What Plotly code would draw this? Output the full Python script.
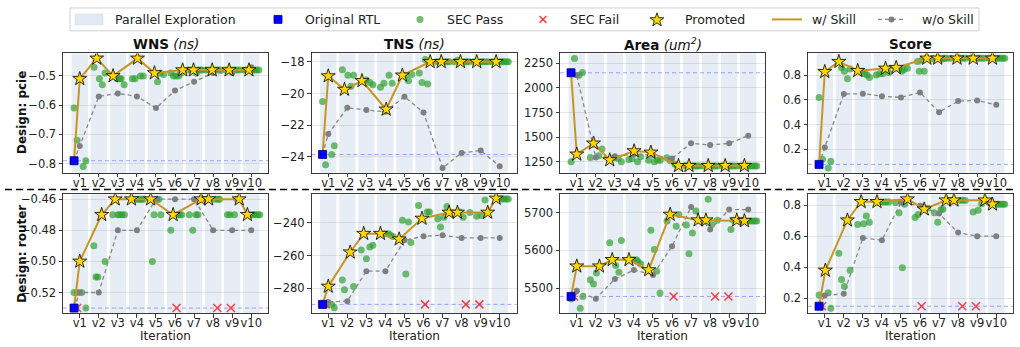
import math
import plotly.graph_objects as go

W, H = 1020, 347
ITERS = list(range(1, 11))
ITER_LABELS = [f"v{i}" for i in ITERS]
ORIG_X = 0.7
METRICS = ["WNS", "TNS", "Area", "Score"]
DESIGNS = ["pcie", "router"]

# ---------------- pcie ----------------
PCIE_WNS_ORIG = -0.79
PCIE_WNS_STAR_X = [1.00, 1.89, 2.75, 4.03, 4.92, 6.40, 6.97, 7.95, 8.84, 9.88]
PCIE_WNS_STAR_Y = [-0.51, -0.44, -0.50, -0.44, -0.49, -0.48, -0.48, -0.48, -0.48, -0.48]
PCIE_WNS_WO_Y = [-0.74, -0.57, -0.56, -0.57, -0.61, -0.55, -0.52, -0.49, -0.49, -0.47]
PCIE_WNS_PASS_X = [0.70, 0.86, 1.18, 1.32, 1.75, 2.03, 2.18, 2.33, 2.95, 3.10, 3.17, 3.33,
                   3.76, 3.90, 4.18, 4.33, 5.08, 5.22, 5.40, 5.78, 5.92, 6.05, 6.20, 6.30,
                   6.70, 6.85, 7.12, 7.20, 7.33, 7.42, 7.62, 7.78, 8.10, 8.25, 8.38,
                   8.65, 9.00, 9.12, 9.25, 9.40, 9.62, 9.75, 10.02, 10.15, 10.28, 10.40]
PCIE_WNS_PASS_Y = [-0.61, -0.72, -0.81, -0.79, -0.47, -0.51, -0.53, -0.49, -0.51, -0.51, -0.51, -0.53,
                   -0.51, -0.51, -0.50, -0.50, -0.52, -0.49, -0.495, -0.49, -0.50, -0.50, -0.50, -0.49,
                   -0.48, -0.48, -0.49, -0.48, -0.48, -0.48, -0.48, -0.48, -0.48, -0.48, -0.48,
                   -0.48, -0.48, -0.48, -0.48, -0.48, -0.48, -0.48, -0.48, -0.48, -0.48, -0.48]
PCIE_WNS_FAIL_X = []

PCIE_TNS_ORIG = -23.85
PCIE_TNS_STAR_X = [1.00, 1.85, 2.77, 4.04, 4.89, 6.35, 6.93, 7.94, 8.79, 9.81]
PCIE_TNS_STAR_Y = [-18.9, -19.75, -19.2, -21.0, -18.85, -18.0, -18.0, -18.0, -18.0, -18.0]
PCIE_TNS_WO_Y = [-22.55, -20.9, -21.05, -21.15, -20.2, -21.2, -24.7, -23.75, -23.6, -24.6]
PCIE_TNS_PASS_X = [0.70, 0.86, 1.18, 1.32, 1.74, 2.03, 2.19, 2.33, 3.00, 3.18, 3.34,
                   3.74, 3.92, 4.19, 4.36, 5.07, 5.21, 5.39, 5.78, 5.92, 6.10, 6.22,
                   6.70, 6.85, 7.10, 7.22, 7.35, 7.62, 7.78, 8.10, 8.25, 8.38,
                   8.65, 9.00, 9.12, 9.25, 9.40, 9.62, 9.95, 10.10, 10.22, 10.35, 10.45]
PCIE_TNS_PASS_Y = [-20.5, -24.5, -23.85, -23.3, -18.5, -18.85, -19.55, -18.85, -19.15, -19.3, -19.45,
                   -19.6, -19.35, -18.85, -19.35, -18.85, -19.2, -18.8, -18.7, -19.3, -17.85, -19.4,
                   -18.0, -18.0, -18.0, -18.0, -18.0, -18.0, -17.9, -18.0, -18.0, -18.0,
                   -18.0, -18.0, -18.0, -18.0, -18.0, -18.0, -18.0, -18.0, -18.0, -18.0, -18.0]
PCIE_TNS_FAIL_X = []

PCIE_AREA_ORIG = 2155
PCIE_AREA_STAR_X = [1.00, 1.88, 2.73, 4.01, 4.89, 6.34, 6.89, 7.90, 8.79, 9.80]
PCIE_AREA_STAR_Y = [1325, 1437, 1267, 1359, 1345, 1209, 1209, 1209, 1209, 1209]
PCIE_AREA_WO_Y = [2130, 1293, 1305, 1325, 1317, 1283, 1437, 1420, 1437, 1515]
PCIE_AREA_PASS_X = [0.70, 0.88, 1.12, 1.30, 1.71, 2.15, 2.33, 2.95, 3.17, 3.34,
                    3.74, 3.90, 4.19, 4.36, 4.77, 5.07, 5.25, 5.38, 5.73, 5.90, 6.15, 6.28,
                    6.70, 7.05, 7.18, 7.30, 7.42, 7.62, 8.10, 8.25, 8.38,
                    8.65, 9.00, 9.12, 9.25, 9.40, 9.62, 9.95, 10.10, 10.22, 10.35, 10.45]
PCIE_AREA_PASS_Y = [1250, 2301, 2130, 2158, 1293, 1310, 1378, 1290, 1283, 1250,
                    1273, 1283, 1250, 1300, 1266, 1250, 1266, 1266, 1290, 1260, 1225, 1215,
                    1209, 1205, 1205, 1205, 1205, 1205, 1205, 1205, 1205,
                    1205, 1205, 1205, 1205, 1205, 1205, 1205, 1205, 1205, 1205, 1205]
PCIE_AREA_FAIL_X = []

PCIE_SCORE_ORIG = 0.079
PCIE_SCORE_STAR_X = [1.00, 1.74, 2.73, 4.19, 4.75, 6.36, 6.93, 7.94, 8.79, 9.80]
PCIE_SCORE_STAR_Y = [0.827, 0.908, 0.835, 0.854, 0.860, 0.935, 0.935, 0.935, 0.935, 0.935]
PCIE_SCORE_WO_Y = [0.216, 0.647, 0.650, 0.630, 0.620, 0.660, 0.500, 0.590, 0.595, 0.560]
PCIE_SCORE_PASS_X = [0.70, 0.88, 1.18, 1.32, 1.88, 2.03, 2.19, 2.33, 2.95, 3.10, 3.22, 3.35,
                     3.70, 3.87, 4.04, 4.36, 4.92, 5.04, 5.16, 5.34, 5.87, 5.96, 6.10, 6.22,
                     6.70, 7.05, 7.18, 7.30, 7.42, 7.62, 8.10, 8.25, 8.38,
                     8.65, 9.00, 9.12, 9.25, 9.40, 9.62, 9.95, 10.10, 10.22, 10.35, 10.45]
PCIE_SCORE_PASS_Y = [0.62, 0.12, 0.05, 0.105, 0.86, 0.83, 0.77, 0.85, 0.83, 0.81, 0.80, 0.78,
                     0.80, 0.81, 0.81, 0.82, 0.85, 0.83, 0.845, 0.855, 0.91, 0.83, 0.92, 0.83,
                     0.93, 0.93, 0.93, 0.935, 0.935, 0.935, 0.935, 0.935, 0.935,
                     0.935, 0.935, 0.935, 0.935, 0.935, 0.935, 0.935, 0.935, 0.935, 0.935, 0.935]
PCIE_SCORE_FAIL_X = []

# ---------------- router ----------------
ROUTER_WNS_ORIG = -0.53
ROUTER_WNS_STAR_X = [1.00, 2.15, 2.86, 3.71, 4.72, 5.90, 7.37, 7.76, 9.37, 9.80]
ROUTER_WNS_STAR_Y = [-0.50, -0.47, -0.46, -0.46, -0.46, -0.47, -0.46, -0.46, -0.46, -0.47]
ROUTER_WNS_WO_Y = [-0.52, -0.52, -0.48, -0.48, -0.46, -0.46, -0.46, -0.48, -0.48, -0.48]
ROUTER_WNS_PASS_X = [0.70, 0.88, 1.10, 1.32, 1.74, 1.85, 1.95, 2.33, 2.73, 3.00, 3.10, 3.22, 3.35,
                     3.90, 4.05, 4.15, 4.25, 4.35, 4.81, 4.90, 5.05, 5.15, 5.25,
                     5.78, 6.13, 6.25, 6.35, 6.75, 6.93, 7.10, 7.20, 8.08, 8.25, 8.34,
                     8.75, 8.88, 9.12, 9.25, 9.95, 10.10, 10.22, 10.35, 10.45]
ROUTER_WNS_PASS_Y = [-0.52, -0.52, -0.52, -0.53, -0.49, -0.51, -0.51, -0.50, -0.47, -0.47, -0.47, -0.47, -0.47,
                     -0.46, -0.46, -0.46, -0.46, -0.46, -0.50, -0.47, -0.46, -0.46, -0.47,
                     -0.48, -0.47, -0.47, -0.47, -0.47, -0.48, -0.47, -0.47, -0.46, -0.46, -0.46,
                     -0.47, -0.47, -0.47, -0.46, -0.47, -0.47, -0.47, -0.47, -0.47]
ROUTER_WNS_FAIL_X = [0.86, 6.08, 8.22, 8.93]

ROUTER_TNS_ORIG = -290
ROUTER_TNS_STAR_X = [1.00, 2.15, 2.86, 3.74, 4.72, 5.92, 7.34, 7.78, 9.37, 9.81]
ROUTER_TNS_STAR_Y = [-279, -258, -246.6, -246.6, -250, -237.3, -233.6, -233.6, -233.6, -225]
ROUTER_TNS_WO_Y = [-288.5, -288, -269.6, -269.6, -250.7, -248.2, -247.6, -249.2, -249.2, -249.2]
ROUTER_TNS_PASS_X = [0.86, 1.18, 1.32, 1.74, 1.85, 2.33, 2.73, 3.00, 3.18, 3.34,
                     3.95, 4.15, 4.25, 4.40, 4.89, 5.07, 5.21, 5.34, 5.74, 6.19, 6.31,
                     6.75, 6.89, 7.07, 7.23, 7.90, 8.08, 8.43, 8.79, 9.05, 9.23,
                     9.95, 10.10, 10.22, 10.35, 10.45]
ROUTER_TNS_PASS_Y = [-290, -290, -292, -275, -281, -279, -256.7, -262, -254.8, -253.7,
                     -246.6, -246.6, -247.5, -248.4, -238.4, -271.3, -239.4, -252, -229.4, -233.4, -233.4,
                     -237.5, -242.5, -236.5, -230, -233.4, -236.5, -233.7, -236, -235.5, -226,
                     -225.4, -225.4, -225.4, -225.4, -225.4]
ROUTER_TNS_FAIL_X = [0.86, 6.08, 8.22, 8.93]

ROUTER_AREA_ORIG = 5478
ROUTER_AREA_STAR_X = [1.00, 2.19, 2.86, 3.74, 4.77, 5.90, 7.37, 7.78, 9.40, 9.80]
ROUTER_AREA_STAR_Y = [5558, 5558, 5575, 5575, 5548, 5695, 5680, 5680, 5680, 5678]
ROUTER_AREA_WO_Y = [5493, 5472, 5524, 5548, 5535, 5611, 5715, 5655, 5708, 5708]
ROUTER_AREA_PASS_X = [0.70, 1.18, 1.32, 1.71, 1.88, 2.03, 2.73, 3.04, 3.21, 3.34,
                      3.95, 4.13, 4.22, 4.36, 4.89, 5.07, 5.19, 5.37, 5.74, 6.22, 6.36,
                      6.75, 6.89, 7.07, 7.25, 7.90, 8.08, 8.38, 9.09, 9.22, 9.55,
                      9.95, 10.10, 10.22, 10.35, 10.45]
ROUTER_AREA_PASS_Y = [5471, 5447, 5478, 5522, 5511, 5540, 5620, 5560, 5542, 5626,
                      5575, 5575, 5570, 5564, 5653, 5602, 5545, 5487, 5678, 5664, 5695,
                      5667, 5591, 5646, 5704, 5735, 5668, 5680, 5655, 5680, 5680,
                      5678, 5678, 5678, 5678, 5678]
ROUTER_AREA_FAIL_X = [0.86, 6.08, 8.26, 8.96]

ROUTER_SCORE_ORIG = 0.148
ROUTER_SCORE_STAR_X = [1.03, 2.19, 2.91, 3.74, 5.34, 6.22, 7.37, 7.78, 9.41, 9.80]
ROUTER_SCORE_STAR_Y = [0.379, 0.703, 0.822, 0.822, 0.839, 0.774, 0.832, 0.832, 0.832, 0.806]
ROUTER_SCORE_WO_Y = [0.217, 0.228, 0.589, 0.574, 0.817, 0.796, 0.746, 0.623, 0.600, 0.600]
ROUTER_SCORE_PASS_X = [0.70, 1.18, 1.32, 1.74, 1.88, 2.03, 2.33, 2.73, 3.04, 3.18, 3.34,
                       3.95, 4.10, 4.22, 4.36, 4.72, 4.90, 5.07, 5.19, 5.74, 5.90, 6.13, 6.40,
                       6.75, 6.93, 7.10, 7.20, 8.10, 8.25, 8.38, 8.79, 9.05, 9.23,
                       9.95, 10.10, 10.22, 10.35, 10.45]
ROUTER_SCORE_PASS_Y = [0.22, 0.235, 0.135, 0.49, 0.32, 0.276, 0.38, 0.675, 0.68, 0.73, 0.69,
                       0.82, 0.82, 0.82, 0.82, 0.817, 0.752, 0.396, 0.806, 0.72, 0.74, 0.79, 0.78,
                       0.752, 0.69, 0.77, 0.774, 0.83, 0.832, 0.83, 0.756, 0.767, 0.81,
                       0.806, 0.806, 0.806, 0.806, 0.806]
ROUTER_SCORE_FAIL_X = [0.86, 6.08, 8.22, 8.93]

# ---------- tables built from the arrays above ----------
G = globals()
PANELS = {}
for d in DESIGNS:
    for m in METRICS:
        p = f"{d.upper()}_{m.upper()}_"
        PANELS[(d, m)] = dict(orig=G[p + "ORIG"], sx=G[p + "STAR_X"], sy=G[p + "STAR_Y"],
                              wo=G[p + "WO_Y"], px=G[p + "PASS_X"], py=G[p + "PASS_Y"],
                              fx=G[p + "FAIL_X"])

# ---------- layout / style ----------
FONT = "DejaVu Sans"
COL_PX = [(63, 268), (311.5, 516.5), (560, 765), (808, 1013)]
ROW_PX = [(51.7, 171.7), (193.3, 313.0)]
XRANGE = [0.12, 10.88]
YAX = {
    ("pcie", "WNS"): dict(range=[-0.831, -0.423], dtick=0.1, tickformat=".1f"),
    ("pcie", "TNS"): dict(range=[-25.0, -17.47], dtick=2, tickformat="d"),
    ("pcie", "Area"): dict(range=[1138, 2352], dtick=250, tickformat="d"),
    ("pcie", "Score"): dict(range=[0.012, 0.975], dtick=0.2, tickformat=".1f"),
    ("router", "WNS"): dict(range=[-0.5333, -0.4568], dtick=0.02, tickformat=".2f"),
    ("router", "TNS"): dict(range=[-295.4, -222.4], dtick=20, tickformat="d"),
    ("router", "Area"): dict(range=[5433.6, 5748.7], dtick=100, tickformat="d"),
    ("router", "Score"): dict(range=[0.103, 0.871], dtick=0.2, tickformat=".1f"),
}
TITLES = {"WNS": "<b>WNS</b> <i>(ns)</i>", "TNS": "<b>TNS</b> <i>(ns)</i>",
          "Area": "<b>Area</b> <i>(um<sup>2</sup>)</i>", "Score": "<b>Score</b>"}

BAND = "rgba(176,196,222,0.30)"
GREEN = "rgba(44,160,44,0.68)"
RED = "rgba(255,20,20,0.8)"
GOLD = "#C99522"
STARFILL = "#FFD700"
GRAY = "#888888"
BLUE = "#0000FF"
BAND_HALF = 0.43
TICKFONT = dict(family=FONT, size=11.5, color="#222")


def px_x(v):
    return v / W


def px_y(v):
    return 1 - v / H


fig = go.Figure()
layout = dict(width=W, height=H, margin=dict(l=0, r=0, t=0, b=0),
              paper_bgcolor="white", plot_bgcolor="white", showlegend=False,
              font=dict(family=FONT, color="#222"))
shapes = []
annotations = []

for r, d in enumerate(DESIGNS):
    for c, m in enumerate(METRICS):
        k = r * 4 + c + 1
        key = "" if k == 1 else str(k)
        xa, ya = "x" + key, "y" + key
        P = PANELS[(d, m)]
        for i in ITERS:
            shapes.append(dict(type="rect", xref=xa, yref=f"{ya} domain", x0=i - BAND_HALF,
                               x1=i + BAND_HALF, y0=0, y1=1, fillcolor=BAND,
                               line=dict(width=0), layer="below"))
        shapes.append(dict(type="line", xref=f"{xa} domain", yref=ya, x0=0, x1=1,
                           y0=P["orig"], y1=P["orig"], layer="below",
                           line=dict(color="rgba(60,60,255,0.45)", width=1, dash="4px,3px")))
        fig.add_trace(go.Scatter(x=P["px"], y=P["py"], mode="markers", xaxis=xa, yaxis=ya,
                                 marker=dict(color=GREEN, size=7, line=dict(width=0))))
        if P["fx"]:
            fig.add_trace(go.Scatter(x=P["fx"], y=[P["orig"]] * len(P["fx"]), mode="markers",
                                     xaxis=xa, yaxis=ya,
                                     marker=dict(symbol="x-thin", size=8, color=RED,
                                                 line=dict(color=RED, width=1.5))))
        fig.add_trace(go.Scatter(x=[ORIG_X] + ITERS, y=[P["orig"]] + P["wo"], mode="lines+markers",
                                 xaxis=xa, yaxis=ya,
                                 line=dict(color=GRAY, width=1.3, dash="4px,3px"),
                                 marker=dict(color="#7f7f7f", size=6)))
        fig.add_trace(go.Scatter(x=[ORIG_X] + P["sx"], y=[P["orig"]] + P["sy"], mode="lines",
                                 xaxis=xa, yaxis=ya, line=dict(color=GOLD, width=2)))
        fig.add_trace(go.Scatter(x=P["sx"], y=P["sy"], mode="markers", xaxis=xa, yaxis=ya,
                                 marker=dict(symbol="star", size=10.5, color=STARFILL,
                                             line=dict(color="black", width=0.8))))
        fig.add_trace(go.Scatter(x=[ORIG_X], y=[P["orig"]], mode="markers", xaxis=xa, yaxis=ya,
                                 marker=dict(symbol="square", size=8, color=BLUE,
                                             line=dict(color="#000080", width=0.8))))
        x0, x1 = COL_PX[c]
        y0, y1 = ROW_PX[r]
        layout["xaxis" + key] = dict(domain=[px_x(x0), px_x(x1)], anchor=ya, range=XRANGE,
                                     tickvals=ITERS, ticktext=ITER_LABELS, tickangle=0,
                                     ticklabelstandoff=-4, showgrid=False,
                                     zeroline=False, showline=True, mirror=True,
                                     linecolor="#3a3a3a", linewidth=1, ticks="outside",
                                     ticklen=3.5, tickwidth=0.8, tickcolor="#3a3a3a",
                                     tickfont=TICKFONT, fixedrange=True)
        ys = YAX[(d, m)]
        layout["yaxis" + key] = dict(domain=[px_y(y1), px_y(y0)], anchor=xa, range=ys["range"],
                                     tick0=0, dtick=ys["dtick"], tickformat=ys["tickformat"],
                                     showgrid=True, gridcolor="rgba(0,0,0,0.09)", gridwidth=0.8,
                                     zeroline=False, showline=True, mirror=True,
                                     linecolor="#3a3a3a", linewidth=1, ticks="outside",
                                     ticklen=3.5, tickwidth=0.8, tickcolor="#3a3a3a",
                                     tickfont=TICKFONT, fixedrange=True)
        if r == 0:
            annotations.append(dict(text=TITLES[m], xref="paper", yref="paper",
                                    x=px_x((x0 + x1) / 2), y=px_y(42.5), xanchor="center",
                                    yanchor="middle", showarrow=False,
                                    font=dict(family=FONT, size=13.5, color="#111")))
        else:
            annotations.append(dict(text="Iteration", xref="paper", yref="paper",
                                    x=px_x((x0 + x1) / 2), y=px_y(336), xanchor="center",
                                    yanchor="middle", showarrow=False,
                                    font=dict(family=FONT, size=12, color="#222")))
    annotations.append(dict(text=f"<b>Design: {d}</b>", xref="paper", yref="paper",
                            x=px_x(22), y=px_y(sum(ROW_PX[r]) / 2), textangle=-90,
                            xanchor="center", yanchor="middle", showarrow=False,
                            font=dict(family=FONT, size=12, color="#111")))

shapes.append(dict(type="line", xref="paper", yref="paper", x0=px_x(5), x1=px_x(1015),
                   y0=px_y(188.5), y1=px_y(188.5), line=dict(color="black", width=1.5, dash="7px,4px")))

# ---------- legend (drawn manually with shapes + text) ----------
LEG_Y = 17.5


def pshape(**kw):
    base = dict(xref="paper", yref="paper")
    base.update(kw)
    shapes.append(base)


def rect_px(xa_, xb_, ya_, yb_, **kw):
    pshape(type="rect", x0=px_x(xa_), x1=px_x(xb_), y0=px_y(yb_), y1=px_y(ya_), **kw)


def circle_px(cx, cy, rad, **kw):
    pshape(type="circle", x0=px_x(cx - rad), x1=px_x(cx + rad), y0=px_y(cy + rad),
           y1=px_y(cy - rad), **kw)


rect_px(70, 979, 6, 29, fillcolor="white", line=dict(color="#d0d0d0", width=1))
rect_px(75, 103, 12, 23, fillcolor="rgba(176,196,222,0.38)",
        line=dict(color="rgba(176,196,222,0.5)", width=0.5))
rect_px(274, 282, LEG_Y - 4, LEG_Y + 4, fillcolor=BLUE, line=dict(color="#000080", width=0.8))
circle_px(420, LEG_Y, 3.5, fillcolor=GREEN, line=dict(width=0))
for dx in (-1, 1):
    pshape(type="line", x0=px_x(543 - 3.5), x1=px_x(543 + 3.5), y0=px_y(LEG_Y - 3.5 * dx),
           y1=px_y(LEG_Y + 3.5 * dx), line=dict(color=RED, width=1.5))
pts = []
for j in range(10):
    ang = -math.pi / 2 + j * math.pi / 5
    rad = 7.2 if j % 2 == 0 else 2.9
    pts.append((657 + rad * math.cos(ang), LEG_Y + 0.6 + rad * math.sin(ang)))
path = "M " + " L ".join(f"{px_x(a):.5f},{px_y(b):.5f}" for a, b in pts) + " Z"
pshape(type="path", path=path, fillcolor=STARFILL, line=dict(color="black", width=0.8))
pshape(type="line", x0=px_x(772), x1=px_x(802), y0=px_y(LEG_Y), y1=px_y(LEG_Y),
       line=dict(color=GOLD, width=2))
pshape(type="line", x0=px_x(878), x1=px_x(905), y0=px_y(LEG_Y), y1=px_y(LEG_Y),
       line=dict(color=GRAY, width=1.3, dash="4px,3px"))
circle_px(891.5, LEG_Y, 3, fillcolor="#7f7f7f", line=dict(width=0))

LEG_TEXT = [("Parallel Exploration", 113), ("Original RTL", 303), ("SEC Pass", 445),
            ("SEC Fail", 568), ("Promoted", 683), ("w/ Skill", 810), ("w/o Skill", 920)]
for txt, xl in LEG_TEXT:
    annotations.append(dict(text=txt, xref="paper", yref="paper", x=px_x(xl), y=px_y(LEG_Y),
                            xanchor="left", yanchor="middle", showarrow=False,
                            font=dict(family=FONT, size=12.5, color="#222")))

layout["shapes"] = shapes
layout["annotations"] = annotations
fig.update_layout(**layout)
fig.write_html("out.html")
